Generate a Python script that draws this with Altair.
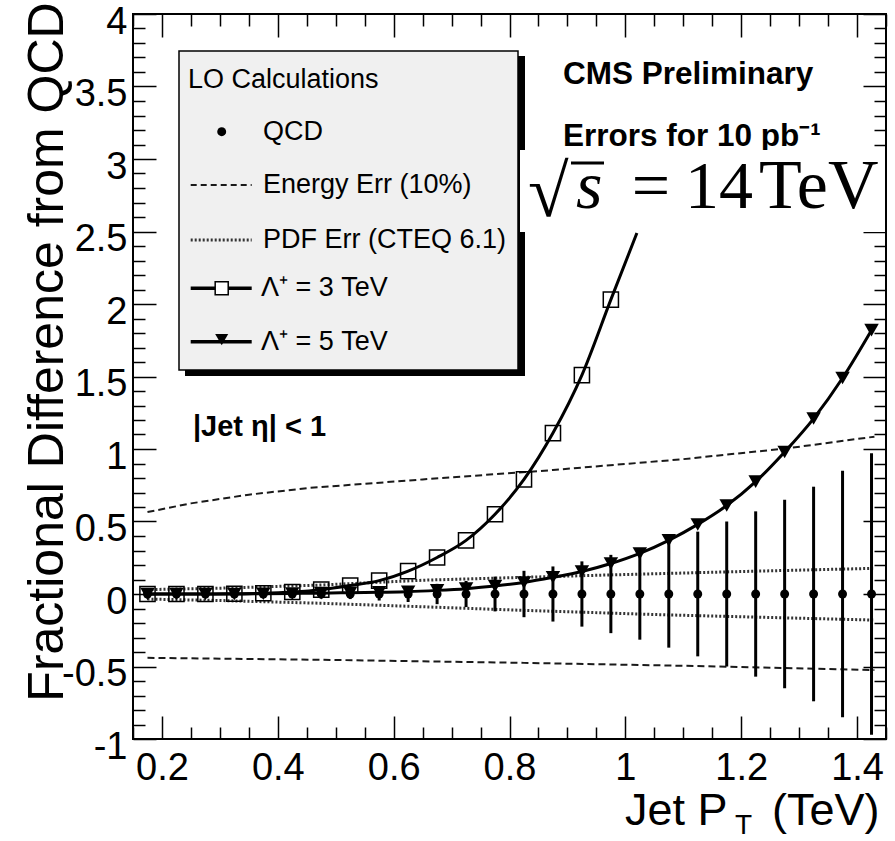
import altair as alt
import pandas as pd

# ---------------- data ----------------
x_bins = [0.175, 0.225, 0.275, 0.325, 0.375, 0.425, 0.475, 0.525, 0.575, 0.625,
          0.675, 0.725, 0.775, 0.825, 0.875, 0.925, 0.975, 1.025, 1.075, 1.125,
          1.175, 1.225, 1.275, 1.325, 1.375, 1.425]
qcd_y = [0, 0, 0, 0, 0, 0, 0, 0, 0, 0, 0, 0, 0, 0, 0, 0, 0, 0, 0, 0, 0, 0, 0, 0, 0, 0]
qcd_err = [0.01, 0.01, 0.015, 0.015, 0.02, 0.025, 0.03, 0.035, 0.045, 0.055,
           0.07, 0.09, 0.12, 0.16, 0.19, 0.225, 0.27, 0.315, 0.37, 0.43,
           0.50, 0.57, 0.65, 0.74, 0.85, 0.97]

lam3_x = [0.175, 0.225, 0.275, 0.325, 0.375, 0.425, 0.475, 0.525, 0.575, 0.625,
          0.675, 0.725, 0.775, 0.825, 0.875, 0.925, 0.975]
lam3_y = [0.0, 0.0, 0.0, 0.002, 0.005, 0.014, 0.03, 0.058, 0.092, 0.158,
          0.252, 0.37, 0.55, 0.79, 1.11, 1.51, 2.03]
lam3_curve_x = lam3_x + [1.02]
lam3_curve_y = lam3_y + [2.49]

lam5_x = x_bins
lam5_y = [0.0, 0.0, 0.0, 0.0, 0.002, 0.004, 0.006, 0.009, 0.012, 0.016,
          0.025, 0.037, 0.055, 0.08, 0.115, 0.155, 0.21, 0.28, 0.37, 0.48,
          0.61, 0.775, 0.98, 1.21, 1.49, 1.82]

energy_up_x = [0.175, 0.25, 0.35, 0.45, 0.65, 0.875, 1.1, 1.28, 1.43]
energy_up_y = [0.565, 0.625, 0.685, 0.73, 0.79, 0.855, 0.93, 1.005, 1.085]
energy_lo_x = [0.175, 0.5, 0.825, 1.1, 1.43]
energy_lo_y = [-0.44, -0.455, -0.475, -0.495, -0.525]

pdf_up_x = [0.175, 0.3, 0.475, 0.65, 0.825, 0.96, 1.2, 1.43]
pdf_up_y = [0.03, 0.04, 0.062, 0.095, 0.115, 0.13, 0.155, 0.177]
pdf_lo_x = [0.175, 0.3, 0.475, 0.65, 0.825, 1.08, 1.43]
pdf_lo_y = [-0.035, -0.045, -0.064, -0.088, -0.113, -0.145, -0.18]

x_major = [0.2, 0.4, 0.6, 0.8, 1.0, 1.2, 1.4]
x_minor = [0.15, 0.25, 0.3, 0.35, 0.45, 0.5, 0.55, 0.65, 0.7, 0.75, 0.85, 0.9, 0.95,
           1.05, 1.1, 1.15, 1.25, 1.3, 1.35, 1.45]
y_major = [-1, -0.5, 0, 0.5, 1, 1.5, 2, 2.5, 3, 3.5, 4]
y_minor = [-0.9, -0.8, -0.7, -0.6, -0.4, -0.3, -0.2, -0.1, 0.1, 0.2, 0.3, 0.4,
           0.6, 0.7, 0.8, 0.9, 1.1, 1.2, 1.3, 1.4, 1.6, 1.7, 1.8, 1.9,
           2.1, 2.2, 2.3, 2.4, 2.6, 2.7, 2.8, 2.9, 3.1, 3.2, 3.3, 3.4,
           3.6, 3.7, 3.8, 3.9]

legend_title = "LO Calculations"
legend_labels = ["QCD", "Energy Err (10%)", "PDF Err (CTEQ 6.1)", "\u039b\u207a = 3 TeV", "\u039b\u207a = 5 TeV"]

# ---------------- frames ----------------
qcd_df = pd.DataFrame({"x": x_bins, "y": qcd_y, "err": qcd_err})
qcd_df["lo"] = qcd_df["y"] - qcd_df["err"]
qcd_df["hi"] = qcd_df["y"] + qcd_df["err"]
lam3_df = pd.DataFrame({"x": lam3_x, "y": lam3_y})
lam3c_df = pd.DataFrame({"x": lam3_curve_x, "y": lam3_curve_y})
lam5_df = pd.DataFrame({"x": lam5_x, "y": lam5_y})
eu_df = pd.DataFrame({"x": energy_up_x, "y": energy_up_y})
el_df = pd.DataFrame({"x": energy_lo_x, "y": energy_lo_y})
pu_df = pd.DataFrame({"x": pdf_up_x, "y": pdf_up_y})
pl_df = pd.DataFrame({"x": pdf_lo_x, "y": pdf_lo_y})

W, H = 753, 725
FONT = "Liberation Sans"
SERIF = "Liberation Serif"
xs = alt.Scale(domain=[0.15, 1.45], nice=False, zero=False)
ys = alt.Scale(domain=[-1, 4], nice=False, zero=False)


def axis(orient, values, size, labels):
    kw = dict(orient=orient, values=values, tickSize=size, offset=-size, labels=labels,
              domain=False, grid=False, title=None, ticks=True, tickColor="black",
              tickWidth=1.5, labelFlush=False, labelOverlap=False)
    if labels:
        kw.update(labelFont=FONT, labelFontSize=38, labelColor="black",
                  labelExpr="toString(datum.value)")
        if orient == "bottom":
            kw.update(labelPadding=10)
        else:
            kw.update(labelPadding=6, labelOffset=8)
    return alt.Axis(**kw)


def X(ax=None):
    return alt.X("x:Q", scale=xs, axis=ax)


def Y(ax=None, field="y:Q"):
    return alt.Y(field, scale=ys, axis=ax)


DASH = [7, 4]
DOT = [2, 2]
energy_up = alt.Chart(eu_df).mark_line(color="#1a1a1a", strokeWidth=2, strokeDash=DASH).encode(
    x=X(axis("bottom", x_major, 23, True)), y=Y(axis("left", y_major, 23, True)))
energy_lo = alt.Chart(el_df).mark_line(color="#1a1a1a", strokeWidth=2, strokeDash=DASH).encode(
    x=X(axis("bottom", x_minor, 12, False)), y=Y(axis("left", y_minor, 12, False)))
pdf_up = alt.Chart(pu_df).mark_line(color="#333", strokeWidth=3, strokeDash=DOT).encode(
    x=X(axis("top", x_major, 23, False)), y=Y(axis("right", y_major, 23, False)))
pdf_lo = alt.Chart(pl_df).mark_line(color="#333", strokeWidth=3, strokeDash=DOT).encode(
    x=X(axis("top", x_minor, 12, False)), y=Y(axis("right", y_minor, 12, False)))

err_bars = alt.Chart(qcd_df).mark_rule(color="black", strokeWidth=3).encode(
    x=X(), y=Y(field="lo:Q"), y2="hi:Q")
qcd_pts = alt.Chart(qcd_df).mark_point(shape="circle", filled=True, color="black", size=80, opacity=1).encode(
    x=X(), y=Y())
lam3_line = alt.Chart(lam3c_df).mark_line(color="black", strokeWidth=3, interpolate="monotone").encode(
    x=X(), y=Y())
lam3_pts = alt.Chart(lam3_df).mark_point(shape="square", filled=False, color="black", size=230,
                                         strokeWidth=1.5, opacity=1).encode(x=X(), y=Y())
lam5_line = alt.Chart(lam5_df).mark_line(color="black", strokeWidth=3, interpolate="monotone").encode(
    x=X(), y=Y())
lam5_pts = alt.Chart(lam5_df).mark_point(shape="triangle-down", filled=True, color="black", size=210,
                                         opacity=1).encode(x=X(), y=Y())

one = alt.Data(values=[{}])


def rect(x1, x2, y1, y2, fill, stroke=None, sw=0):
    kw = dict(fill=fill, strokeWidth=sw, opacity=1)
    if stroke:
        kw["stroke"] = stroke
    return alt.Chart(one).mark_rect(**kw).encode(
        x=alt.value(x1), x2=alt.value(x2), y=alt.value(y1), y2=alt.value(y2))


def text(t, x, y, size, bold=False, font=FONT, align="left", baseline="middle", angle=0, style="normal"):
    kw = dict(text=t, font=font, fontSize=size, fontWeight="bold" if bold else "normal",
              align=align, baseline=baseline, color="black", fontStyle=style)
    if angle:
        kw["angle"] = angle
    return alt.Chart(one).mark_text(**kw).encode(x=alt.value(x), y=alt.value(y))


def hline(x1, x2, y, width, dash=None, color="black"):
    kw = dict(color=color, strokeWidth=width)
    if dash:
        kw["strokeDash"] = dash
    return alt.Chart(one).mark_rule(**kw).encode(x=alt.value(x1), x2=alt.value(x2), y=alt.value(y))


def symbol(shape, x, y, filled, size):
    return alt.Chart(one).mark_point(shape=shape, filled=filled, color="black", size=size,
                                     strokeWidth=1.5, opacity=1, fill="white" if not filled else "black").encode(
        x=alt.value(x), y=alt.value(y))


LX1, LX2, LXC, LT = 57.7, 118.7, 88.7, 130
legend = [
    rect(52, 392, 42, 362, "black"),
    rect(46, 385, 37, 356, "#f0f0f0", "black", 1.5),
    text(legend_title, 55, 66, 27),
    symbol("circle", LXC, 117.7, True, 80),
    text(legend_labels[0], LT, 117.7, 27),
    hline(LX1, LX2, 171, 2, [6, 4], "#1a1a1a"),
    text(legend_labels[1], LT, 171, 27),
    hline(LX1, LX2, 226, 3, DOT, "#333"),
    text(legend_labels[2], LT, 226, 27),
    hline(LX1, LX2, 274.3, 3.5),
    symbol("square", LXC, 274.3, False, 170),
    text(legend_labels[3], LT - 2, 274.3, 27),
    hline(LX1, LX2, 327.7, 3.5),
    symbol("triangle-down", LXC, 325.7, True, 170),
    text(legend_labels[4], LT - 2, 327.7, 27),
]

SB = 194  # baseline of the sqrt(s) label, plot-area pixels
annotations = [
    text("CMS Preliminary", 430, 61, 31.5, bold=True),
    text("Errors for 10 pb\u207b\u00b9", 430, 122.7, 31.5, bold=True),
    rect(387, 752, 136, 218, "white"),
    text("\u221a", 395, SB + 8, 74, font=SERIF, baseline="alphabetic"),
    hline(438, 471, 149, 3),
    text("s", 443, SB, 68, font=SERIF, baseline="alphabetic", style="italic"),
    text("=", 518, SB, 68, font=SERIF, baseline="alphabetic", align="center"),
    text("14", 552, SB, 68, font=SERIF, baseline="alphabetic"),
    text("TeV", 626, SB, 70, font=SERIF, baseline="alphabetic"),
    text("|Jet \u03b7| < 1", 60, 412.7, 29, bold=True),
    text("Fractional Difference from QCD", -70, 338, 50, angle=270, align="center", baseline="alphabetic"),
    text("Jet P", 492, 811, 45, baseline="alphabetic"),
    text("T", 602, 820, 28, baseline="alphabetic"),
    text("(TeV)", 639, 811, 45, baseline="alphabetic"),
]

chart = alt.layer(
    energy_up, energy_lo, pdf_up, pdf_lo,
    err_bars, qcd_pts, lam3_line, lam5_line, lam3_pts, lam5_pts,
    *legend, *annotations
).resolve_axis(x="independent", y="independent").properties(
    width=W, height=H,
    autosize=alt.AutoSizeParams(type="none"),
    padding={"left": 133, "top": 14, "right": 9, "bottom": 102},
    background="white",
).configure_view(stroke="black", strokeWidth=2)

chart.save("out.html", embed_options={"renderer": "svg", "actions": False})
